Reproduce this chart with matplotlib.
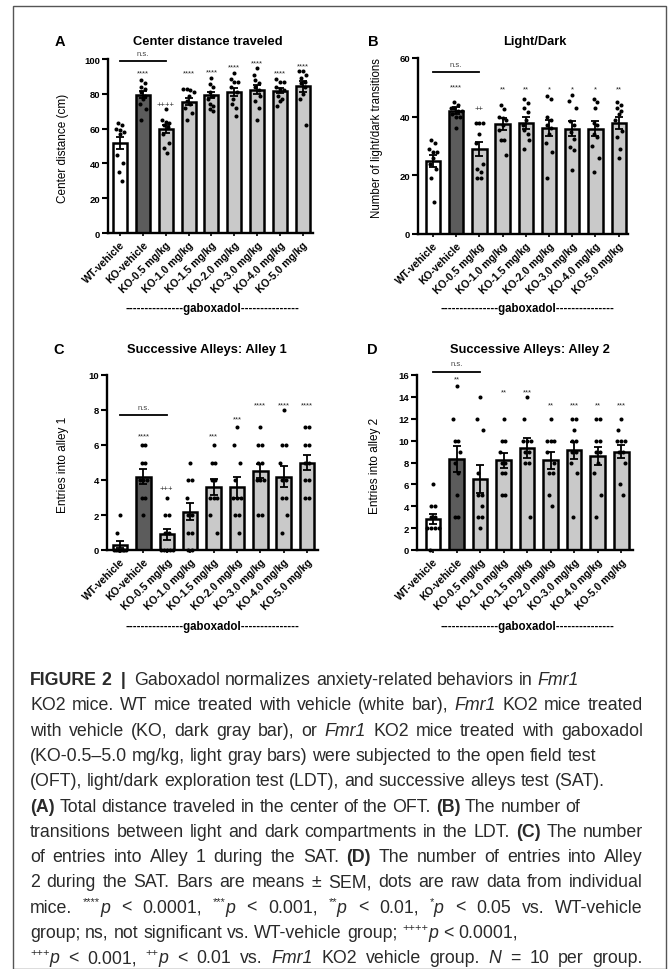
import re
import numpy as np
import matplotlib
matplotlib.use('agg')
import matplotlib.pyplot as plt
from matplotlib.patches import Rectangle
from matplotlib.font_manager import FontProperties

plt.rcParams['font.family'] = ['Liberation Sans', 'DejaVu Sans']

groups = ['WT-vehicle', 'KO-vehicle', 'KO-0.5 mg/kg', 'KO-1.0 mg/kg', 'KO-1.5 mg/kg',
          'KO-2.0 mg/kg', 'KO-3.0 mg/kg', 'KO-4.0 mg/kg', 'KO-5.0 mg/kg']

# A - center distance traveled (cm)
center_mean = [51.5, 79.5, 59.5, 75.5, 79.3, 80.9, 82.4, 81.8, 84.2]
center_sem = [3.4, 2.2, 2.3, 2.0, 2.0, 2.3, 2.5, 1.5, 3.0]
center_dots = [
    [63, 62, 60, 59, 58, 57, 45, 40, 35, 30],
    [88, 86, 84, 83, 81, 79, 77, 74, 71, 65],
    [71, 65, 64, 63, 62, 61, 57, 52, 49, 46],
    [83, 82, 83, 81, 79, 76, 74, 72, 69, 65],
    [89, 85.5, 84, 81, 79, 77, 74, 73, 71, 70],
    [92, 88.5, 86.6, 86.6, 84, 81, 77, 74, 72, 67],
    [95, 91, 88, 86, 84, 82, 79, 76, 72, 65],
    [88.5, 86.6, 86.6, 84, 83, 82, 79, 77, 76, 73],
    [93, 93, 91, 89, 87, 86, 84, 80, 77, 62],
]
center_sig = ['', '****', '++++', '****', '****', '****', '****', '****', '****']
center_sig_y = [0, 92, 74, 92, 92.5, 95.5, 98, 92, 96]

# B - light/dark transitions
ld_mean = [24.8, 42.0, 28.9, 37.6, 37.8, 36.1, 35.9, 35.9, 37.9]
ld_sem = [2.0, 1.2, 2.3, 2.0, 2.0, 2.8, 2.5, 2.6, 2.0]
ld_dots = [
    [32, 31, 29, 28, 28, 26, 24, 22, 19, 11],
    [45, 44, 43, 43, 42, 42, 41, 40, 40, 36],
    [38, 38, 38, 34, 31, 24, 22, 21, 19, 19],
    [44, 42.7, 39.5, 39.9, 38.7, 37, 35.3, 31.9, 31.9, 27],
    [46, 44.8, 43, 41.6, 38.7, 37, 35.3, 34.2, 31.9, 29],
    [47, 46, 40, 39, 37, 36, 34, 31, 28, 19],
    [47.5, 45.2, 42.9, 38.4, 37, 34.7, 32.5, 29.6, 28.8, 21.9],
    [46, 45, 43, 38, 37, 34, 33, 30, 26, 21],
    [45, 44, 43, 42, 41, 39, 35, 33, 29, 26],
]
ld_sig = ['', '****', '++', '**', '**', '*', '*', '*', '**']
ld_sig_y = [0, 50, 42.7, 49.5, 49.5, 49.5, 49.5, 49.5, 49.5]

# C - entries into alley 1
a1_mean = [0.3, 4.2, 0.9, 2.2, 3.6, 3.6, 4.5, 4.2, 5.0]
a1_sem = [0.2, 0.4, 0.3, 0.5, 0.45, 0.6, 0.4, 0.6, 0.45]
a1_dots = [
    [2, 1, 0, 0, 0, 0, 0, 0, 0, 0],
    [6, 6, 5, 5, 4, 4, 4, 3, 3, 2],
    [3, 2, 2, 1, 1, 0, 0, 0, 0, 0],
    [5, 4, 4, 3, 2, 2, 1, 1, 0, 0],
    [6, 5, 5, 4, 4, 3, 3, 3, 2, 1],
    [7, 6, 5, 4, 3, 3, 3, 2, 2, 1],
    [7, 6, 6, 5, 5, 4, 4, 4, 2, 2],
    [8, 6, 6, 5, 4, 4, 3, 3, 2, 1],
    [7, 7, 6, 6, 5, 5, 4, 4, 3, 3],
]
a1_sig = ['', '****', '+++', '', '***', '***', '****', '****', '****']
a1_sig_y = [0, 6.5, 3.5, 0, 6.5, 7.5, 8.3, 8.3, 8.3]

# D - entries into alley 2
a2_mean = [2.8, 8.3, 6.5, 8.2, 9.3, 8.2, 9.1, 8.6, 9.0]
a2_sem = [0.45, 1.2, 1.3, 0.7, 0.9, 0.8, 0.8, 0.8, 0.6]
a2_dots = [
    [6, 4, 4, 3, 3, 2, 2, 2, 2, 0],
    [15, 12, 10, 10, 9, 8, 7, 5, 3, 3],
    [14, 12, 11, 7, 5, 5, 4, 3, 3, 2],
    [12, 10, 10, 9, 8, 8, 7, 7, 5, 5],
    [14, 12, 10, 10, 10, 9, 9, 8, 8, 3],
    [12, 10, 10, 10, 9, 8, 7, 7, 5, 4],
    [12, 12, 11, 10, 10, 9, 9, 8, 7, 3],
    [12, 12, 10, 10, 9, 9, 8, 7, 5, 3],
    [12, 11, 10, 10, 10, 9, 9, 8, 6, 5],
]
a2_sig = ['', '**', '', '**', '***', '**', '***', '**', '***']
a2_sig_y = [0, 15.6, 0, 14.5, 14.5, 13.3, 13.3, 13.3, 13.3]

bar_colors = ['white', '#5c5c5c'] + ['#c9c9c9'] * 7

W, H = 668, 970
fig = plt.figure(figsize=(W / 100, H / 100), dpi=100)


def px_axes(l, r, t, b):
    return fig.add_axes([l / W, 1 - b / H, (r - l) / W, (b - t) / H])


def spread(vals, ymax):
    vals = np.asarray(vals, float)
    order = np.argsort(-vals, kind='stable')
    off = np.zeros(len(vals))
    tol = ymax * 0.025
    pattern = [0.0, -0.14, 0.14, -0.07, 0.07]
    i = k = 0
    while i < len(order):
        j = i
        while j + 1 < len(order) and vals[order[i]] - vals[order[j + 1]] < tol:
            j += 1
        n = j - i + 1
        if n == 1:
            off[order[i]] = pattern[k % len(pattern)]
            k += 1
        else:
            step = min(0.16, 0.5 / (n - 1))
            for m, idx in enumerate(order[i:j + 1]):
                off[idx] = (m - (n - 1) / 2) * step
        i = j + 1
    return off


def panel(ax, mean, sem, dots, sig, sig_y, ymax, yticks, ns_y, xlim):
    x = np.arange(len(groups))
    ax.bar(x, mean, width=0.62, color=bar_colors, edgecolor='black', linewidth=1.8, zorder=2)
    for i, d in enumerate(dots):
        ax.scatter(x[i] + spread(d, ymax), d, s=8.5, color='black', zorder=3, clip_on=False,
                   linewidths=0)
    ax.errorbar(x, mean, yerr=sem, fmt='none', ecolor='black', elinewidth=1.3,
                capsize=3.2, capthick=1.3, zorder=4)
    for i, s in enumerate(sig):
        if s:
            ax.text(x[i], sig_y[i], s, ha='center', va='center', fontsize=5.5, color='#222222')
    ax.plot([0, 2], [ns_y, ns_y], color='black', lw=1.3, clip_on=False)
    ax.text(1, ns_y + ymax * 0.025, 'n.s.', ha='center', va='bottom', fontsize=5.5,
            color='#444444')
    ax.set_ylim(0, ymax)
    ax.set_xlim(*xlim)
    ax.set_yticks(yticks)
    ax.set_xticks(x)
    ax.set_xticklabels(groups, rotation=45, ha='right', rotation_mode='anchor',
                       fontsize=7.5, fontweight='bold')
    for lab in ax.get_yticklabels():
        lab.set_fontweight('bold')
        lab.set_fontsize(6.8)
    ax.tick_params(axis='y', length=4, width=1.5, pad=1.5)
    ax.tick_params(axis='x', length=2.5, width=1.2, pad=2)
    for sp in ['top', 'right']:
        ax.spines[sp].set_visible(False)
    for sp in ['left', 'bottom']:
        ax.spines[sp].set_linewidth(1.7)


axA = px_axes(108, 313, 60, 234)
panel(axA, center_mean, center_sem, center_dots, center_sig, center_sig_y, 100,
      range(0, 101, 20), 98.7, (-0.53, 8.45))
axB = px_axes(418, 628, 59, 235)
panel(axB, ld_mean, ld_sem, ld_dots, ld_sig, ld_sig_y, 60,
      range(0, 61, 20), 55.2, (-0.64, 8.4))
axC = px_axes(107, 318, 376, 551)
panel(axC, a1_mean, a1_sem, a1_dots, a1_sig, a1_sig_y, 10,
      range(0, 11, 2), 7.7, (-0.56, 8.47))
axD = px_axes(417, 633, 376, 551)
panel(axD, a2_mean, a2_sem, a2_dots, a2_sig, a2_sig_y, 16,
      range(0, 17, 2), 16.3, (-0.68, 8.5))


def ftext(x, y, s, **kw):
    fig.text(x / W, 1 - y / H, s, **kw)


for (lx, ly, letter, tx, title) in [(60, 42, 'A', 208, 'Center distance traveled'),
                                     (373, 42, 'B', 535, 'Light/Dark'),
                                     (59, 350, 'C', 207, 'Successive Alleys: Alley 1'),
                                     (372, 350, 'D', 530, 'Successive Alleys: Alley 2')]:
    ftext(lx, ly, letter, fontsize=10.5, fontweight='bold', ha='center', va='center')
    ftext(tx, ly, title, fontsize=9.3, fontweight='bold', ha='center', va='center')

ftext(63, 148, 'Center distance (cm)', rotation=90, fontsize=8.5, ha='center', va='center')
ftext(377, 138, 'Number of light/dark transitions', rotation=90, fontsize=8.3,
      ha='center', va='center')
ftext(63, 465, 'Entries into alley 1', rotation=90, fontsize=8.5, ha='center', va='center')
ftext(375, 466, 'Entries into alley 2', rotation=90, fontsize=8.5, ha='center', va='center')

gab = '-' * 15 + 'gaboxadol' + '-' * 15
for gx, gy in [(212, 309), (527, 309), (212, 627), (527, 627)]:
    ftext(gx, gy, gab, fontsize=8.3, fontweight='bold', ha='center', va='center')

fig.add_artist(Rectangle((13 / W, 0), (666 - 13) / W, 1 - 7 / H, transform=fig.transFigure,
                         fill=False, edgecolor='#555555', lw=1.0))

# caption
cap_lines = [
    ([('FIGURE 2', 'b'), ('\u2002|\u2002', 'b'),
      ('Gaboxadol normalizes anxiety-related behaviors in ', 'n'), ('Fmr1', 'i')], False),
    ([('KO2 mice. WT mice treated with vehicle (white bar), ', 'n'), ('Fmr1', 'i'),
      (' KO2 mice treated', 'n')], True),
    ([('with vehicle (KO, dark gray bar), or ', 'n'), ('Fmr1', 'i'),
      (' KO2 mice treated with gaboxadol', 'n')], True),
    ([('(KO-0.5\u20135.0 mg/kg, light gray bars) were subjected to the open field test', 'n')], False),
    ([('(OFT), light/dark exploration test (LDT), and successive alleys test (SAT).', 'n')], False),
    ([('(A)', 'b'), (' Total distance traveled in the center of the OFT. ', 'n'), ('(B)', 'b'),
      (' The number of', 'n')], False),
    ([('transitions between light and dark compartments in the LDT. ', 'n'), ('(C)', 'b'),
      (' The number', 'n')], True),
    ([('of entries into Alley 1 during the SAT. ', 'n'), ('(D)', 'b'),
      (' The number of entries into Alley', 'n')], True),
    ([('2 during the SAT. Bars are means \u00b1 SEM, dots are raw data from individual', 'n')], True),
    ([('mice. ', 'n'), ('****', 's'), ('p', 'i'), (' < 0.0001, ', 'n'), ('***', 's'), ('p', 'i'),
      (' < 0.001, ', 'n'), ('**', 's'), ('p', 'i'), (' < 0.01, ', 'n'), ('*', 's'), ('p', 'i'),
      (' < 0.05 vs. WT-vehicle', 'n')], True),
    ([('group; ns, not significant vs. WT-vehicle group; ', 'n'), ('++++', 's'), ('p', 'i'),
      (' < 0.0001,', 'n')], False),
    ([('+++', 's'), ('p', 'i'), (' < 0.001, ', 'n'), ('++', 's'), ('p', 'i'),
      (' < 0.01 vs. ', 'n'), ('Fmr1', 'i'), (' KO2 vehicle group. ', 'n'), ('N', 'i'),
      (' = 10 per group.', 'n')], True),
]

cap_size = 12.8
renderer = fig.canvas.get_renderer()


def props(style):
    if style == 'b':
        return FontProperties(family='Liberation Sans', weight='bold', size=cap_size)
    if style == 'i':
        return FontProperties(family='Liberation Sans', style='italic', size=cap_size)
    if style == 's':
        return FontProperties(family='Liberation Sans', size=cap_size * 0.62)
    return FontProperties(family='Liberation Sans', size=cap_size)


def tw(s, fp):
    return renderer.get_text_width_height_descent(s, fp, ismath=False)[0]


def tokens(runs):
    out = []
    for text, st in runs:
        for tok in re.split(r'( )', text):
            if tok:
                out.append((tok, st))
    return out


x_left, x_right = 30, 643
y0, dy = 685, 25.3
for li, (runs, justify) in enumerate(cap_lines):
    toks = tokens(runs)
    widths = []
    for tok, st in toks:
        fp = props(st)
        if tok == ' ':
            widths.append(tw('a a', fp) - tw('aa', fp))
        elif tok.startswith('\u2002'):
            widths.append(tw('a' + tok + 'a', fp) - tw('aa', fp))
        else:
            widths.append(tw(tok, fp))
    nat = sum(widths)
    ngaps = sum(1 for t, _ in toks if t == ' ')
    extra = (x_right - x_left - nat) / ngaps if (justify and ngaps) else 0
    extra = max(extra, 0)
    x = x_left
    y = y0 + li * dy
    for (tok, st), w in zip(toks, widths):
        if tok == ' ':
            x += w + extra
            continue
        fp = props(st)
        yy = y - (cap_size * 0.42 * 100 / 72 if st == 's' else 0)
        fig.text(x / W, 1 - yy / H, tok, fontproperties=fp, ha='left', va='baseline',
                 color='#2a2a2a')
        x += w

fig.savefig('out.png', dpi=100)
